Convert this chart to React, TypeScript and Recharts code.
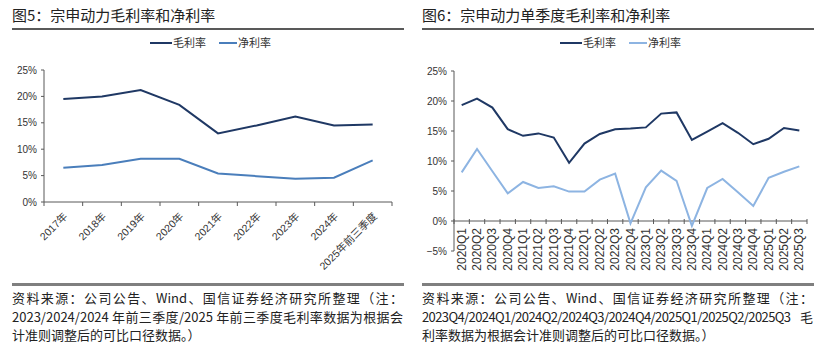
import React from 'react';
import { LineChart, Line, XAxis, YAxis, ReferenceLine } from 'recharts';

const leftCats = ['2017年', '2018年', '2019年', '2020年', '2021年', '2022年', '2023年', '2024年', '2025年前三季度'];
const leftGross = [19.5, 20.0, 21.2, 18.4, 13.0, 14.5, 16.2, 14.5, 14.7];
const leftNet = [6.5, 7.0, 8.2, 8.2, 5.4, 4.9, 4.4, 4.6, 7.9];
const leftTicks = [0, 5, 10, 15, 20, 25];

const rightCats = [
  '2020Q1', '2020Q2', '2020Q3', '2020Q4',
  '2021Q1', '2021Q2', '2021Q3', '2021Q4',
  '2022Q1', '2022Q2', '2022Q3', '2022Q4',
  '2023Q1', '2023Q2', '2023Q3', '2023Q4',
  '2024Q1', '2024Q2', '2024Q3', '2024Q4',
  '2025Q1', '2025Q2', '2025Q3',
];
const rightGross = [19.3, 20.4, 18.9, 15.3, 14.2, 14.6, 13.9, 9.7, 12.9, 14.5, 15.3, 15.4, 15.6, 17.9, 18.1, 13.5, 14.9, 16.3, 14.7, 12.8, 13.7, 15.5, 15.1];
const rightNet = [8.1, 12.0, 8.3, 4.6, 6.5, 5.5, 5.8, 4.9, 4.9, 6.9, 7.9, -0.4, 5.6, 8.4, 6.7, -0.8, 5.5, 7.0, 4.8, 2.5, 7.2, 8.2, 9.1];
const rightTicks = [-5, 0, 5, 10, 15, 20, 25];

const leftData = leftCats.map((c, i) => ({ cat: c, gross: leftGross[i], net: leftNet[i] }));
const rightData = rightCats.map((c, i) => ({ cat: c, gross: rightGross[i], net: rightNet[i] }));

const GROSS = '#1F3864';
const NET_L = '#4A7EBB';
const NET_R = '#8DB4E2';
const AXIS = '#595959';
const LABEL_FONT = '"Liberation Sans", Arial, "Noto Sans CJK SC", sans-serif';
const CJK_FONT = '"Noto Sans CJK SC", "Liberation Sans", sans-serif';

// Left chart geometry
const L_W = 410, L_H = 290;
const L_M = { top: 70, right: 18, left: 8, bottom: 8 };
const L_YW = 36;
const L_XH = 80;
const L_PLOT_W = L_W - L_M.left - L_M.right - L_YW;
const L_BAND = L_PLOT_W / leftCats.length;

// Right chart geometry
const R_W = 412, R_H = 290;
const R_M = { top: 71, right: 15, left: 8, bottom: 9 };
const R_YW = 36;
const R_XH = 30;
const R_PLOT_W = R_W - R_M.left - R_M.right - R_YW;
const R_PLOT_H = R_H - R_M.top - R_M.bottom - R_XH;
const R_BAND = R_PLOT_W / rightCats.length;
const R_MIN = -5, R_MAX = 25;
const R_ZERO_UP = (R_PLOT_H * (0 - R_MIN)) / (R_MAX - R_MIN);

const LeftTick = (props: any) => {
  const { x, y, payload, index } = props;
  const isLast = index === leftCats.length - 1;
  return (
    <g>
      <line x1={x - L_BAND / 2} x2={x - L_BAND / 2} y1={y} y2={y + 4} stroke={AXIS} strokeWidth={1} />
      {isLast && <line x1={x + L_BAND / 2} x2={x + L_BAND / 2} y1={y} y2={y + 4} stroke={AXIS} strokeWidth={1} />}
      <text
        transform={`translate(${x + 3},${y + 13}) rotate(-45)`}
        textAnchor="end"
        dominantBaseline="middle"
        fontSize={10.5}
        fill="#333"
        fontFamily={LABEL_FONT}
      >
        {payload.value}
      </text>
    </g>
  );
};

const RightTick = (props: any) => {
  const { x, y, payload, index } = props;
  const y0 = y - R_ZERO_UP;
  const isLast = index === rightCats.length - 1;
  return (
    <g>
      <line x1={x - R_BAND / 2} x2={x - R_BAND / 2} y1={y0 - 2} y2={y0 + 3} stroke={AXIS} strokeWidth={1} />
      {isLast && <line x1={x + R_BAND / 2} x2={x + R_BAND / 2} y1={y0 - 2} y2={y0 + 3} stroke={AXIS} strokeWidth={1} />}
      <text
        transform={`translate(${x},${y0 + 7}) rotate(-90)`}
        textAnchor="end"
        dominantBaseline="central"
        fontSize={12}
        fill="#333"
        fontFamily={LABEL_FONT}
      >
        {payload.value}
      </text>
    </g>
  );
};

const fmtPct = (v: number) => (v < 0 ? `−${Math.abs(v)}%` : `${v}%`);

const Legend = ({ left, netColor }: { left: number; netColor: string }) => (
  <div style={{ position: 'absolute', left, top: 36, height: 14, fontFamily: CJK_FONT, fontSize: 11, color: '#333' }}>
    <div style={{ position: 'absolute', left: 0, top: 6, width: 22, height: 2, background: GROSS }} />
    <div style={{ position: 'absolute', left: 23, top: -1, whiteSpace: 'nowrap', lineHeight: '15px' }}>毛利率</div>
    <div style={{ position: 'absolute', left: 69, top: 6, width: 18, height: 2, background: netColor }} />
    <div style={{ position: 'absolute', left: 88, top: -1, whiteSpace: 'nowrap', lineHeight: '15px' }}>净利率</div>
  </div>
);

const Panel = ({ left, title, footer }: { left: number; title: string; footer: React.ReactNode[] }) => (
  <>
    <div style={{ position: 'absolute', left: left + 12, top: 5, fontFamily: CJK_FONT, fontSize: 15, lineHeight: '20px', color: '#222', whiteSpace: 'nowrap' }}>
      {title}
    </div>
    <div style={{ position: 'absolute', left: left + 12, top: 28, width: 392, height: 2, background: AXIS }} />
    <div style={{ position: 'absolute', left: left + 12, top: 283, width: 392, height: 2.5, background: '#7f7f7f' }} />
    <div style={{ position: 'absolute', left: left + 12, top: 289, width: 391, fontFamily: CJK_FONT, fontSize: 13, lineHeight: '18.5px', color: '#222' }}>
      {footer.map((line, i) => (
        <div
          key={i}
          style={{
            whiteSpace: 'nowrap',
            textAlign: i < footer.length - 1 ? 'justify' : 'left',
            textAlignLast: i < footer.length - 1 ? 'justify' : 'left',
          } as any}
        >
          {line}
        </div>
      ))}
    </div>
  </>
);

export default function App() {
  return (
    <div style={{ position: 'absolute', left: 0, top: 0, width: 822, height: 356, background: '#fff', overflow: 'hidden' }}>
      <Panel
        left={0}
        title="图5：宗申动力毛利率和净利率"
        footer={[
          '资料来源：公司公告、Wind、国信证券经济研究所整理（注：',
          '2023/2024/2024 年前三季度/2025 年前三季度毛利率数据为根据会',
          '计准则调整后的可比口径数据。）',
        ]}
      />
      <Panel
        left={410}
        title="图6：宗申动力单季度毛利率和净利率"
        footer={[
          '资料来源：公司公告、Wind、国信证券经济研究所整理（注：',
          <>
            <span style={{ letterSpacing: '-0.6px' }}>2023Q4/2024Q1/2024Q2/2024Q3/2024Q4/2025Q1/2025Q2/2025Q3</span> 毛
          </>,
          '利率数据为根据会计准则调整后的可比口径数据。）',
        ]}
      />
      <Legend left={150} netColor={NET_L} />
      <Legend left={560} netColor={NET_R} />

      <div style={{ position: 'absolute', left: 0, top: 0 }}>
        <LineChart width={L_W} height={L_H} data={leftData} margin={L_M}>
          <YAxis
            domain={[0, 25]}
            ticks={leftTicks}
            tickFormatter={fmtPct}
            width={L_YW}
            axisLine={{ stroke: AXIS }}
            tickLine={{ stroke: AXIS }}
            tickSize={3}
            tickMargin={4}
            tick={{ fontSize: 10, fill: '#333', fontFamily: LABEL_FONT }}
            interval={0}
          />
          <XAxis
            dataKey="cat"
            height={L_XH}
            interval={0}
            padding={{ left: L_BAND / 2, right: L_BAND / 2 }}
            tick={<LeftTick />}
            tickLine={false}
            tickSize={0}
            tickMargin={0}
            axisLine={{ stroke: AXIS }}
          />
          <Line type="linear" dataKey="gross" stroke={GROSS} strokeWidth={2} dot={false} isAnimationActive={false} />
          <Line type="linear" dataKey="net" stroke={NET_L} strokeWidth={2} dot={false} isAnimationActive={false} />
        </LineChart>
      </div>

      <div style={{ position: 'absolute', left: 410, top: 0 }}>
        <LineChart width={R_W} height={R_H} data={rightData} margin={R_M}>
          <YAxis
            domain={[R_MIN, R_MAX]}
            ticks={rightTicks}
            tickFormatter={fmtPct}
            width={R_YW}
            axisLine={{ stroke: AXIS }}
            tickLine={{ stroke: AXIS }}
            tickSize={3}
            tickMargin={4}
            tick={{ fontSize: 10, fill: '#333', fontFamily: LABEL_FONT }}
            interval={0}
          />
          <XAxis
            dataKey="cat"
            height={R_XH}
            interval={0}
            padding={{ left: R_BAND / 2, right: R_BAND / 2 }}
            tick={<RightTick />}
            tickLine={false}
            tickSize={0}
            tickMargin={0}
            axisLine={false}
          />
          <ReferenceLine y={0} stroke={AXIS} strokeWidth={1} />
          <Line type="linear" dataKey="gross" stroke={GROSS} strokeWidth={2} dot={false} isAnimationActive={false} />
          <Line type="linear" dataKey="net" stroke={NET_R} strokeWidth={2} dot={false} isAnimationActive={false} />
        </LineChart>
      </div>
    </div>
  );
}
